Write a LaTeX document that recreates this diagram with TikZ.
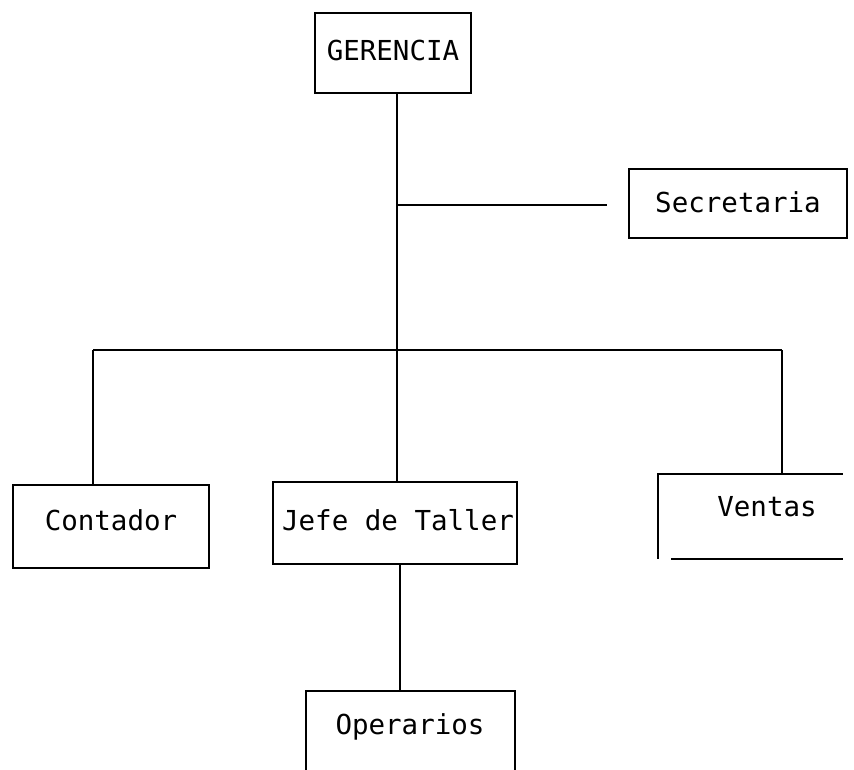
\documentclass[tikz,border=0pt]{standalone}
\usepackage{fontspec}
\newfontfamily\typew{DejaVu Sans Mono}
\begin{document}
\begin{tikzpicture}[x=1pt,y=-1pt,
  line width=1.6pt,
  every node/.style={font=\typew\fontsize{27.5}{32}\selectfont, inner sep=0pt},
  orgbox/.style={draw, rectangle},
  openbox/.style={rectangle}]
\useasboundingbox (0,0) rectangle (854,770);
% boxes
\node[orgbox, minimum width=156pt, minimum height=80pt] (G) at (393,53) {\raisebox{6pt}{GERENCIA}};
\node[orgbox, minimum width=218pt, minimum height=69pt] (S) at (738,203.5) {\raisebox{3pt}{Secretaria}};
\node[orgbox, minimum width=196pt, minimum height=83pt] (C) at (111,526.5) {\raisebox{12pt}{Contador}};
\node[orgbox, minimum width=244pt, minimum height=82pt] (J) at (395,523) {\raisebox{6pt}{\hspace{6pt}Jefe de Taller}};
\node[openbox, minimum width=183pt, minimum height=83pt] (V) at (750.5,516.5) {};
\node at (767,507) {Ventas};
\node[openbox, minimum width=207pt, minimum height=78pt] (O) at (410.5,731) {};
\node at (410,727) {Operarios};
% open box borders
\draw (V.south west) -- (V.north west) -- (V.north east);
\draw ([xshift=13pt]V.south west) -- (V.south east);
\draw (O.south west) -- (O.north west) -- (O.north east) -- (O.south east);
% connectors
\coordinate (tS) at (397,205);
\coordinate (sE) at (607,205);
\coordinate (bL) at (93,350);
\coordinate (bR) at (782,350);
\draw ([xshift=4pt]G.south) -- ([xshift=4pt]G.south |- J.north);
\draw (tS) -- (sE);
\draw (bL) -- (bR);
\draw (bL) -- (bL |- C.north);
\draw (bR) -- (bR |- V.north);
\draw ([xshift=5pt]J.south) -- ([xshift=5pt]J.south |- O.north);
\end{tikzpicture}
\end{document}
